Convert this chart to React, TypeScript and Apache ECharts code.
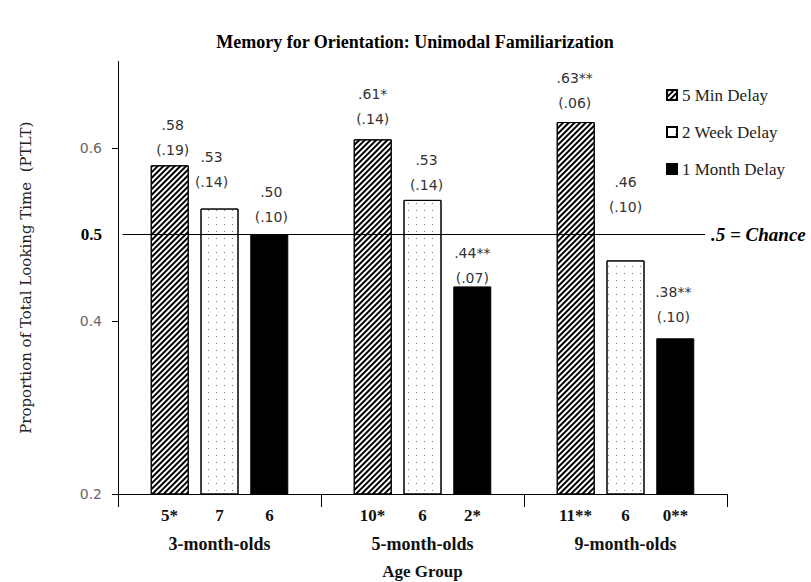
import React, { useEffect, useRef } from 'react';
import * as echarts from 'echarts';

const chartTitle = 'Memory for Orientation: Unimodal Familiarization';
const categories = ['3-month-olds', '5-month-olds', '9-month-olds'];
const seriesNames = ['5 Min Delay', '2 Week Delay', '1 Month Delay'];
const min5Values = [0.58, 0.61, 0.63];
const week2Values = [0.53, 0.54, 0.47];
const month1Values = [0.5, 0.44, 0.38];
const min5Means = ['.58', '.61*', '.63**'];
const week2Means = ['.53', '.53', '.46'];
const month1Means = ['.50', '.44**', '.38**'];
const min5SDs = ['(.19)', '(.14)', '(.06)'];
const week2SDs = ['(.14)', '(.14)', '(.10)'];
const month1SDs = ['(.10)', '(.07)', '(.10)'];
const min5Counts = ['5*', '10*', '11**'];
const week2Counts = ['7', '6', '6'];
const month1Counts = ['6', '2*', '0**'];
const yTickValues = [0.2, 0.4, 0.6];
const yLabelValues = [0.2, 0.4, 0.5, 0.6];
const chanceValue = 0.5;
const chanceLabel = '.5 = Chance';
const yAxisName = 'Proportion of Total Looking Time  (PTLT)';
const xAxisName = 'Age Group';

// label layout tweaks (style, not data)
const labelLift = [
  [0.5, 5.5, 4.5],
  [12.5, 0.5, 38.5],
  [3.5, -6.5, 6.5],
];
const labelShift = [
  [3, 0, -1],
  [-8, 4, 0],
  [2, 0, -2],
];

const serifFont = '"Liberation Serif", "Times New Roman", serif';

export default function App() {
  const ref = useRef<HTMLDivElement>(null);

  useEffect(() => {
    document.body.style.margin = '0';
    if (!ref.current) return;
    const chart = echarts.init(ref.current, null, { renderer: 'svg' });

    const labelBase = {
      show: true,
      position: 'top',
      distance: 2,
      fontFamily: '"DejaVu Sans", sans-serif',
      fontSize: 14,
      lineHeight: 25,
      color: '#333',
    };

    const makeSeries = (
      i: number,
      values: number[],
      means: string[],
      sds: string[],
      itemStyle: any
    ) => ({
      type: 'bar',
      name: seriesNames[i],
      barWidth: 38,
      barGap: '31%',
      itemStyle,
      label: {
        ...labelBase,
        formatter: (p: any) => `${means[p.dataIndex]}\n${sds[p.dataIndex]}`,
      },
      data: values.map((v, j) => ({
        value: v,
        label: { offset: [labelShift[i][j], -labelLift[i][j]] },
      })),
    });

    const hatchStyle = {
      color: '#fff',
      borderColor: '#000',
      borderWidth: 1,
      decal: {
        symbol: 'rect',
        symbolSize: 1,
        dashArrayX: [1, 0],
        dashArrayY: [1.6, 1.6],
        rotation: -Math.PI / 4,
        color: '#000',
      },
    };
    const dotStyle = {
      color: '#fff',
      borderColor: '#000',
      borderWidth: 1,
      decal: {
        symbol: 'rect',
        symbolSize: 1,
        dashArrayX: [1, 7],
        dashArrayY: [1, 6],
        rotation: 0,
        color: '#777',
      },
    };
    const solidStyle = { color: '#000', borderColor: '#000', borderWidth: 1 };

    chart.setOption({
      animation: false,
      backgroundColor: '#fff',
      grid: { left: 118, right: 84, top: 61.5, bottom: 88, outerBoundsMode: 'none' },
      legend: {
        orient: 'vertical',
        left: 661,
        top: 81,
        icon: 'rect',
        itemWidth: 10,
        itemHeight: 10,
        itemGap: 19,
        selectedMode: false,
        data: seriesNames,
        textStyle: { fontFamily: serifFont, fontSize: 17, color: '#222', lineHeight: 18 },
      },
      xAxis: {
        type: 'category',
        data: categories,
        name: xAxisName,
        nameLocation: 'middle',
        nameGap: 69,
        nameTextStyle: { fontFamily: serifFont, fontWeight: 'bold', fontSize: 17, color: '#111' },
        axisLine: { lineStyle: { color: '#000', width: 1 } },
        axisTick: { show: true, length: 13, lineStyle: { color: '#000' } },
        axisLabel: {
          margin: 7,
          interval: 0,
          formatter: (v: string, i: number) =>
            `{n|${min5Counts[i]}}{n|${week2Counts[i]}}{n|${month1Counts[i]}}\n{c|${v}}`,
          rich: {
            n: {
              width: 50,
              align: 'center',
              fontFamily: serifFont,
              fontWeight: 'bold',
              fontSize: 17,
              lineHeight: 28,
              color: '#111',
            },
            c: {
              fontFamily: serifFont,
              fontWeight: 'bold',
              fontSize: 18,
              lineHeight: 30,
              color: '#111',
            },
          },
        },
      },
      yAxis: {
        type: 'value',
        min: 0.2,
        max: 0.7,
        interval: 0.1,
        name: yAxisName,
        nameLocation: 'middle',
        nameRotate: 90,
        nameGap: 85,
        nameTextStyle: { fontFamily: '"DejaVu Serif", serif', fontSize: 15, color: '#222' },
        axisLine: { show: true, lineStyle: { color: '#000', width: 1 } },
        axisTick: { show: true, length: 6, customValues: yTickValues, lineStyle: { color: '#000' } },
        splitLine: { show: false },
        axisLabel: {
          customValues: yLabelValues,
          margin: 16,
          color: '#666',
          fontFamily: '"DejaVu Sans", sans-serif',
          fontSize: 14,
          formatter: (v: number) =>
            Math.abs(v - chanceValue) < 1e-6 ? `{b|${v.toFixed(1)}}` : v.toFixed(1),
          rich: {
            b: { fontFamily: serifFont, fontWeight: 'bold', fontSize: 17, color: '#000' },
          },
        },
      },
      series: [
        makeSeries(0, min5Values, min5Means, min5SDs, hatchStyle),
        makeSeries(1, week2Values, week2Means, week2SDs, dotStyle),
        makeSeries(2, month1Values, month1Means, month1SDs, solidStyle),
      ],
    });

    const yChance = chart.convertToPixel({ yAxisIndex: 0 }, chanceValue) as number;
    const xStart = (chart.convertToPixel({ xAxisIndex: 0 }, categories[0]) as number) - 97;

    chart.setOption({
      graphic: [
        {
          type: 'text',
          x: 415,
          y: 42,
          style: {
            text: chartTitle,
            align: 'center',
            verticalAlign: 'middle',
            fontFamily: serifFont,
            fontWeight: 'bold',
            fontSize: 18,
            fill: '#000',
          },
        },
        {
          type: 'line',
          shape: { x1: xStart, y1: yChance, x2: 705, y2: yChance },
          style: { stroke: '#000', lineWidth: 1 },
          z: 10,
        },
        {
          type: 'text',
          x: 711,
          y: yChance,
          style: {
            text: chanceLabel,
            align: 'left',
            verticalAlign: 'middle',
            fontFamily: serifFont,
            fontWeight: 'bold',
            fontStyle: 'italic',
            fontSize: 19,
            fill: '#000',
          },
        },
      ],
    });

    return () => chart.dispose();
  }, []);

  return <div ref={ref} style={{ width: 811, height: 582 }} />;
}
